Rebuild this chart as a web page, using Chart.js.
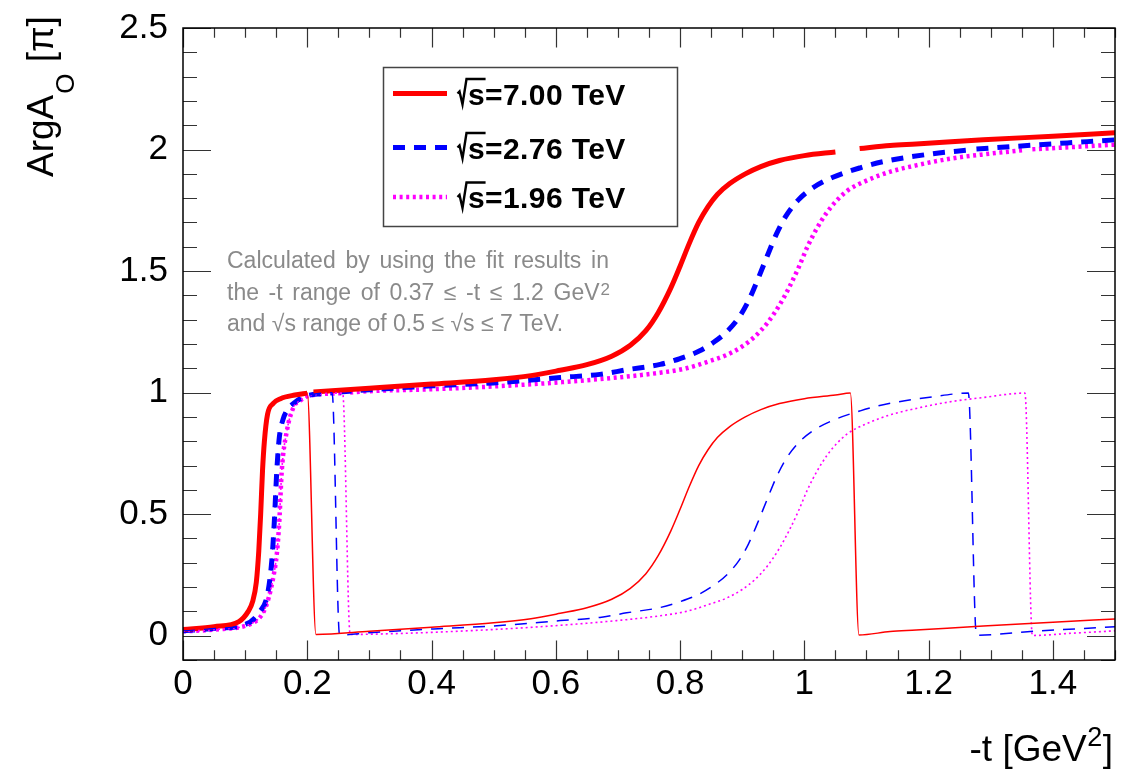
<!DOCTYPE html>
<html>
<head>
<meta charset="utf-8">
<script src="https://cdn.jsdelivr.net/npm/chart.js@4.4.1/dist/chart.umd.min.js"></script>
<style>html,body{margin:0;padding:0;background:#fff}</style>
</head>
<body>
<canvas id="myChart" width="1133" height="772"></canvas>
<script>
// tick labels
var xTickVals = [0, 0.2, 0.4, 0.6, 0.8, 1, 1.2, 1.4];
var xTickLabels = ["0", "0.2", "0.4", "0.6", "0.8", "1", "1.2", "1.4"];
var yTickVals = [0, 0.5, 1, 1.5, 2, 2.5];
var yTickLabels = ["0", "0.5", "1", "1.5", "2", "2.5"];
var energies = ["7.00", "2.76", "1.96"];

// sqrt(s) = 7.00 TeV, unwrapped (thick) and wrapped (thin)
var redT = [0, 0.05, 0.09, 0.105, 0.112, 0.118, 0.122, 0.125, 0.128, 0.131, 0.136, 0.145, 0.157, 0.18, 0.2, 0.205, 0.21, 0.3, 0.4, 0.5, 0.56, 0.607, 0.65, 0.69, 0.72, 0.745, 0.765, 0.785, 0.8, 0.815, 0.83, 0.845, 0.86, 0.88, 0.905, 0.93, 0.96, 1.0, 1.05, 1.07, 1.089, 1.138, 1.18, 1.288, 1.4, 1.5];
var redArg = [0.025, 0.037, 0.058, 0.10, 0.14, 0.22, 0.35, 0.50, 0.68, 0.80, 0.91, 0.955, 0.975, 0.99, 0.998, null, 1.003, 1.018, 1.035, 1.053, 1.07, 1.092, 1.115, 1.15, 1.195, 1.255, 1.33, 1.43, 1.52, 1.615, 1.70, 1.765, 1.815, 1.86, 1.90, 1.93, 1.955, 1.975, 1.99, null, 2.004, 2.017, 2.023, 2.04, 2.055, 2.069];
var redThinT = [0, 0.05, 0.09, 0.105, 0.112, 0.118, 0.122, 0.125, 0.128, 0.131, 0.136, 0.145, 0.157, 0.18, 0.2, 0.214, 0.3, 0.4, 0.5, 0.56, 0.607, 0.65, 0.69, 0.72, 0.745, 0.765, 0.785, 0.8, 0.815, 0.83, 0.845, 0.86, 0.88, 0.905, 0.93, 0.96, 1.0, 1.05, 1.074, 1.088, 1.138, 1.18, 1.288, 1.4, 1.5];
var redThinArg = [0.025, 0.037, 0.058, 0.10, 0.14, 0.22, 0.35, 0.50, 0.68, 0.80, 0.91, 0.955, 0.975, 0.99, 0.998, 0.005, 0.018, 0.035, 0.053, 0.07, 0.092, 0.115, 0.15, 0.195, 0.255, 0.33, 0.43, 0.52, 0.615, 0.70, 0.765, 0.815, 0.86, 0.90, 0.93, 0.955, 0.975, 0.99, 0.998, 0.003, 0.017, 0.023, 0.04, 0.055, 0.069];

// sqrt(s) = 2.76 TeV
var blueT = [0, 0.05, 0.1, 0.124, 0.136, 0.143, 0.147, 0.151, 0.155, 0.161, 0.167, 0.18, 0.197, 0.24, 0.246, 0.252, 0.3, 0.403, 0.5, 0.607, 0.671, 0.714, 0.768, 0.8, 0.83, 0.853, 0.875, 0.895, 0.91, 0.925, 0.94, 0.955, 0.97, 0.99, 1.015, 1.045, 1.09, 1.127, 1.207, 1.264, 1.27, 1.277, 1.368, 1.5];
var blueArg = [0.02, 0.03, 0.046, 0.10, 0.17, 0.31, 0.47, 0.68, 0.815, 0.89, 0.925, 0.96, 0.985, 0.999, null, 1.003, 1.012, 1.028, 1.04, 1.062, 1.075, 1.094, 1.116, 1.14, 1.17, 1.205, 1.25, 1.31, 1.377, 1.465, 1.56, 1.652, 1.725, 1.792, 1.845, 1.885, 1.925, 1.95, 1.983, 1.998, null, 2.002, 2.018, 2.04];
var blueThinT = [0, 0.05, 0.1, 0.124, 0.136, 0.143, 0.147, 0.151, 0.155, 0.161, 0.167, 0.18, 0.197, 0.24, 0.252, 0.3, 0.403, 0.5, 0.607, 0.671, 0.714, 0.768, 0.8, 0.83, 0.853, 0.875, 0.895, 0.91, 0.925, 0.94, 0.955, 0.97, 0.99, 1.015, 1.045, 1.09, 1.127, 1.207, 1.264, 1.277, 1.368, 1.5];
var blueThinArg = [0.02, 0.03, 0.046, 0.10, 0.17, 0.31, 0.47, 0.68, 0.815, 0.89, 0.925, 0.96, 0.985, 0.999, 0.003, 0.012, 0.028, 0.04, 0.062, 0.075, 0.094, 0.116, 0.14, 0.17, 0.205, 0.25, 0.31, 0.377, 0.465, 0.56, 0.652, 0.725, 0.792, 0.845, 0.885, 0.925, 0.95, 0.983, 0.998, 0.002, 0.018, 0.037];

// sqrt(s) = 1.96 TeV
var magT = [0, 0.05, 0.114, 0.13, 0.138, 0.146, 0.151, 0.155, 0.159, 0.167, 0.178, 0.19, 0.202, 0.257, 0.263, 0.269, 0.3, 0.403, 0.564, 0.698, 0.768, 0.81, 0.848, 0.875, 0.9, 0.92, 0.94, 0.96, 0.975, 0.99, 1.005, 1.02, 1.036, 1.052, 1.07, 1.1, 1.14, 1.18, 1.234, 1.288, 1.355, 1.361, 1.367, 1.43, 1.5];
var magArg = [0.018, 0.025, 0.055, 0.10, 0.157, 0.25, 0.336, 0.47, 0.68, 0.84, 0.94, 0.97, 0.986, 0.998, null, 1.0, 1.006, 1.014, 1.035, 1.062, 1.082, 1.10, 1.13, 1.155, 1.19, 1.23, 1.285, 1.36, 1.43, 1.51, 1.60, 1.675, 1.74, 1.79, 1.832, 1.872, 1.91, 1.935, 1.962, 1.98, 1.998, null, 2.001, 2.01, 2.02];
var magThinT = [0, 0.05, 0.114, 0.13, 0.138, 0.146, 0.151, 0.155, 0.159, 0.167, 0.178, 0.19, 0.202, 0.257, 0.269, 0.3, 0.403, 0.564, 0.698, 0.768, 0.81, 0.848, 0.875, 0.9, 0.92, 0.94, 0.96, 0.975, 0.99, 1.005, 1.02, 1.036, 1.052, 1.07, 1.1, 1.14, 1.18, 1.234, 1.288, 1.355, 1.367, 1.43, 1.5];
var magThinArg = [0.018, 0.025, 0.055, 0.10, 0.157, 0.25, 0.336, 0.47, 0.68, 0.84, 0.94, 0.97, 0.986, 0.998, 0.005, 0.006, 0.014, 0.035, 0.062, 0.082, 0.10, 0.13, 0.155, 0.19, 0.23, 0.285, 0.36, 0.43, 0.51, 0.60, 0.675, 0.74, 0.79, 0.832, 0.872, 0.91, 0.935, 0.962, 0.98, 0.998, 0.001, 0.01, 0.02];

var FONT = "'Liberation Sans', Arial, Helvetica, sans-serif";

function pts(xs, ys) {
  return xs.map(function (x, i) { return { x: x, y: ys[i] }; });
}

// ROOT style frame: ticks inside on all four sides, legend box, note, titles
var rootFrame = {
  id: 'rootFrame',
  afterDatasetsDraw: function (chart) {
    var c = chart.ctx, a = chart.chartArea, sx = chart.scales.x, sy = chart.scales.y;
    c.save();
    c.strokeStyle = '#333';
    c.lineWidth = 1.2;
    c.beginPath();
    for (var i = 0; i <= 30; i++) {
      var px = Math.round(sx.getPixelForValue(i * 0.05)) + 0.5;
      var len = (i % 4 === 0) ? 19.5 : 9.7;
      c.moveTo(px, a.bottom); c.lineTo(px, a.bottom - len);
      c.moveTo(px, a.top); c.lineTo(px, a.top + len);
    }
    for (var j = -1; j <= 25; j++) {
      var py = Math.round(sy.getPixelForValue(j * 0.1)) + 0.5;
      var ylen = (j % 5 === 0) ? 28 : 14;
      c.moveTo(a.left, py); c.lineTo(a.left + ylen, py);
      c.moveTo(a.right, py); c.lineTo(a.right - ylen, py);
    }
    c.stroke();
    c.strokeStyle = '#000';
    c.lineWidth = 1.5;
    c.strokeRect(a.left, a.top, a.right - a.left, a.bottom - a.top);

    // legend
    c.fillStyle = '#fff';
    c.fillRect(383.5, 67.5, 294, 159);
    c.strokeStyle = '#444';
    c.lineWidth = 1.5;
    c.strokeRect(383.5, 67.5, 294, 159);
    var rows = [93.5, 147.5, 197];
    var thick = chart.data.datasets.slice(3);
    c.font = 'bold 30px ' + FONT;
    c.letterSpacing = '0.4px';
    c.textBaseline = 'alphabetic';
    c.textAlign = 'left';
    thick.forEach(function (ds, k) {
      var ry = rows[k];
      c.save();
      c.strokeStyle = ds.borderColor;
      c.lineWidth = ds.borderWidth;
      c.setLineDash(ds.borderDash || []);
      c.beginPath();
      c.moveTo(393, ry); c.lineTo(447, ry);
      c.stroke();
      c.restore();
      var b = ry + 11, x0 = 457.5;
      var sw = c.measureText('s').width;
      c.strokeStyle = '#000';
      c.lineWidth = 2.4;
      c.beginPath();
      c.moveTo(x0, b - 11); c.lineTo(x0 + 2, b - 13); c.lineTo(x0 + 5, b);
      c.lineTo(x0 + 9, b - 25.5); c.lineTo(x0 + 11 + sw, b - 25.5);
      c.stroke();
      c.fillStyle = '#000';
      c.fillText('s=' + energies[k] + ' TeV', x0 + 10.5, b);
    });
    c.letterSpacing = '0px';

    // note
    c.fillStyle = '#8a8a8a';
    c.font = '23px ' + FONT;
    function justify(words, x0, x1, y, extra) {
      var tot = 0;
      words.forEach(function (w) { tot += c.measureText(w).width; });
      var gap = (x1 - x0 - tot - (extra || 0)) / (words.length - 1);
      var x = x0;
      words.forEach(function (w) { c.fillText(w, x, y); x += c.measureText(w).width + gap; });
      return x - gap;
    }
    justify(['Calculated', 'by', 'using', 'the', 'fit', 'results', 'in'], 227, 609, 268);
    c.font = '17px ' + FONT;
    var supW = c.measureText('2').width;
    c.font = '23px ' + FONT;
    var endX = justify(['the', '-t', 'range', 'of', '0.37', '\u2264', '-t', '\u2264', '1.2', 'GeV'], 227, 610, 299.5, supW + 1);
    c.font = '17px ' + FONT;
    c.fillText('2', endX + 1, 295);
    c.font = '23px ' + FONT;
    c.fillText('and \u221As range of 0.5 \u2264 \u221As \u2264 7 TeV.', 227, 330.5);

    // x title
    c.fillStyle = '#000';
    c.font = '37px ' + FONT;
    var t1 = '-t [GeV', t2 = ']';
    var w1 = c.measureText(t1).width, w3 = c.measureText(t2).width;
    c.font = '27px ' + FONT;
    var w2 = c.measureText('2').width;
    var xs = 1113 - w1 - w2 - w3 - 1;
    c.font = '37px ' + FONT;
    c.fillText(t1, xs, 761);
    c.fillText(t2, xs + w1 + w2 + 1, 761);
    c.font = '27px ' + FONT;
    c.fillText('2', xs + w1 + 0.5, 746);

    // y title
    c.save();
    c.translate(53, 177);
    c.rotate(-Math.PI / 2);
    c.font = '37px ' + FONT;
    c.fillText('ArgA', 0, 0);
    var wa = c.measureText('ArgA').width;
    c.font = '26px ' + FONT;
    c.fillText('O', wa + 1, 21);
    var wo = c.measureText('O').width;
    c.font = '37px ' + FONT;
    c.fillText(' [\u03C0]', wa + wo + 2, 0);
    c.restore();
    c.restore();
  }
};

var ctx = document.getElementById("myChart");
var myChart = new Chart(ctx, {
  type: 'line',
  data: {
    datasets: [
      { label: 'thin 7.00', data: pts(redThinT, redThinArg), borderColor: '#ff0000', borderWidth: 1.5 },
      { label: 'thin 2.76', data: pts(blueThinT, blueThinArg), borderColor: '#0000ff', borderWidth: 1.5, borderDash: [12, 9] },
      { label: 'thin 1.96', data: pts(magThinT, magThinArg), borderColor: '#ff00ff', borderWidth: 1.6, borderDash: [2, 3] },
      { label: '\u221As=7.00 TeV', data: pts(redT, redArg), borderColor: '#ff0000', borderWidth: 5 },
      { label: '\u221As=2.76 TeV', data: pts(blueT, blueArg), borderColor: '#0000ff', borderWidth: 5, borderDash: [12, 9] },
      { label: '\u221As=1.96 TeV', data: pts(magT, magArg), borderColor: '#ff00ff', borderWidth: 4.5, borderDash: [3, 3.6] }
    ]
  },
  options: {
    responsive: false,
    animation: false,
    layout: { padding: { top: 27, right: 18, left: 0, bottom: 0 } },
    plugins: { legend: { display: false }, tooltip: { enabled: false } },
    elements: {
      point: { radius: 0 },
      line: { cubicInterpolationMode: 'monotone', borderCapStyle: 'butt', fill: false }
    },
    scales: {
      x: {
        type: 'linear', min: 0, max: 1.5,
        grid: { display: false }, border: { display: false },
        afterFit: function (s) { s.height = 112; },
        afterBuildTicks: function (s) { s.ticks = xTickVals.map(function (v) { return { value: v }; }); },
        ticks: {
          callback: function (v, i) { return xTickLabels[i]; },
          font: { family: FONT, size: 35 }, color: '#000', padding: -5,
          maxRotation: 0, autoSkip: false
        }
      },
      y: {
        min: -0.1, max: 2.5,
        grid: { display: false }, border: { display: false },
        afterFit: function (s) { s.width = 183; },
        afterBuildTicks: function (s) { s.ticks = yTickVals.map(function (v) { return { value: v }; }); },
        ticks: {
          callback: function (v, i) { return yTickLabels[i]; },
          font: { family: FONT, size: 35 }, color: '#000', padding: 7,
          autoSkip: false
        }
      }
    }
  },
  plugins: [rootFrame]
});
</script>
</body>
</html>
